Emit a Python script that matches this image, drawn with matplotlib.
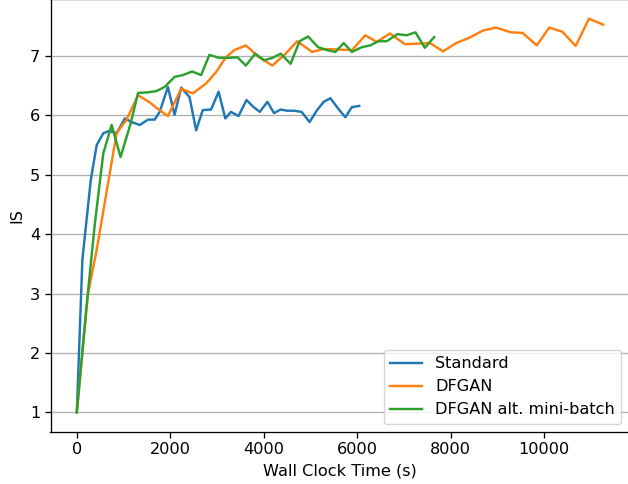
import matplotlib
matplotlib.use("Agg")
import matplotlib.pyplot as plt

# Standard
std_t = [0, 119, 298, 425, 566, 694, 851, 1028, 1170, 1347, 1524, 1666, 1772, 1949,
         2091, 2234, 2411, 2553, 2694, 2872, 3034, 3177, 3298, 3460, 3630, 3770, 3915,
         4077, 4219, 4360, 4500, 4645, 4809, 4979, 5141, 5283, 5426, 5587, 5745, 5885, 6043]
std_is = [1.0, 3.57, 4.91, 5.50, 5.70, 5.74, 5.70, 5.95, 5.89, 5.84, 5.93, 5.93, 6.06, 6.48,
          6.01, 6.47, 6.31, 5.75, 6.09, 6.10, 6.40, 5.95, 6.06, 5.99, 6.26, 6.15, 6.06,
          6.23, 6.04, 6.10, 6.08, 6.08, 6.06, 5.89, 6.09, 6.23, 6.29, 6.12, 5.97, 6.14, 6.16]

# DFGAN
dfgan_t = [0, 240, 426, 851, 1064, 1311, 1560, 1750, 1949, 2234, 2481, 2766, 2979, 3191,
           3368, 3617, 3900, 4184, 4468, 4715, 5034, 5283, 5600, 5885, 6170, 6417, 6702,
           7021, 7300, 7553, 7836, 8119, 8404, 8687, 8970, 9289, 9538, 9843, 10106, 10389,
           10673, 10957, 11262]
dfgan_is = [1.0, 3.0, 3.74, 5.70, 5.93, 6.34, 6.22, 6.10, 5.99, 6.45, 6.37, 6.54, 6.73, 6.98,
            7.10, 7.18, 6.98, 6.84, 7.04, 7.25, 7.07, 7.12, 7.11, 7.10, 7.35, 7.24, 7.38,
            7.20, 7.21, 7.22, 7.08, 7.22, 7.31, 7.43, 7.48, 7.40, 7.39, 7.18, 7.48, 7.41,
            7.17, 7.63, 7.53]

# DFGAN alt. mini-batch
alt_t = [0, 191, 382, 566, 745, 936, 1146, 1311, 1528, 1702, 1879, 2091, 2268, 2468, 2660,
         2836, 3049, 3262, 3438, 3617, 3815, 4006, 4184, 4362, 4574, 4766, 4949, 5162,
         5353, 5532, 5709, 5885, 6098, 6277, 6453, 6630, 6861, 7055, 7247, 7447, 7645]
alt_is = [1.0, 2.65, 4.15, 5.36, 5.84, 5.30, 5.85, 6.38, 6.39, 6.41, 6.48, 6.65, 6.68, 6.74, 6.68,
          7.02, 6.97, 6.97, 6.98, 6.84, 7.04, 6.93, 6.97, 7.04, 6.87, 7.25, 7.33, 7.15,
          7.10, 7.07, 7.22, 7.07, 7.15, 7.18, 7.25, 7.25, 7.37, 7.35, 7.40, 7.14, 7.32]

x_ticks = [0, 2000, 4000, 6000, 8000, 10000]
y_ticks = [1, 2, 3, 4, 5, 6, 7]

s = 1.16
plt.rcParams.update({
    "font.size": 10 * s,
    "xtick.major.size": 3.5 * s,
    "ytick.major.size": 3.5 * s,
    "xtick.major.width": 0.8 * s,
    "ytick.major.width": 0.8 * s,
    "axes.linewidth": 0.8 * s,
})

fig = plt.figure(figsize=(6.28, 4.84), dpi=100)
ax = fig.add_axes([50.5 / 628, 52 / 484, 579 / 628, 433 / 484])
lw = 1.5 * s
ax.plot(std_t, std_is, label="Standard", color="#1f77b4", lw=lw)
ax.plot(dfgan_t, dfgan_is, label="DFGAN", color="#ff7f0e", lw=lw)
ax.plot(alt_t, alt_is, label="DFGAN alt. mini-batch", color="#2ca02c", lw=lw)
ax.set_xticks(x_ticks)
ax.set_yticks(y_ticks)
ax.grid(axis="y", color="#b0b0b0", lw=0.8 * s)
ax.set_axisbelow(True)
ax.set_xlabel("Wall Clock Time (s)")
ax.set_ylabel("IS")
ax.legend(loc="lower right")
fig.savefig("out.png", dpi=100)
